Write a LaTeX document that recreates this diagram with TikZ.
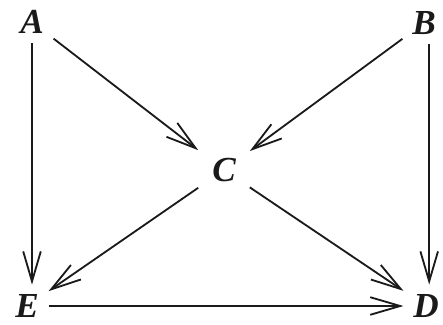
\documentclass[tikz,border=0pt]{standalone}
\usepackage{fontspec}
\setmainfont{Liberation Serif}
\usetikzlibrary{arrows.meta}
\definecolor{ink}{HTML}{1A1A1A}
\tikzset{
  every node/.style = {text=ink},
  vtx/.style   = {inner sep=1pt, outer sep=6pt,
                  font=\fontsize{25}{28}\selectfont\bfseries\itshape},
  vtxc/.style  = {vtx, outer sep=9pt},
  go/.style    = {-{Straight Barb[length=7.5mm,width=4.4mm,line width=1.3pt]},
                  draw=ink, line width=1.3pt},
}
\begin{document}
\begin{tikzpicture}[x=0.025cm, y=-0.025cm]
\useasboundingbox (0,0) rectangle (443,324);

\node[vtx]  (a) at (32,22)   {A};
\node[vtx]  (b) at (424,23)  {B};
\node[vtxc] (c) at (224,170) {C};
\node[vtx]  (e) at (27,306)  {E};
\node[vtx]  (d) at (426,306) {D};

\draw[go] (a) -- (c);
\draw[go] (b) -- (c);
\draw[go] (a.south) -- (a.south |- e.north);
\draw[go] ([xshift=0.13cm]b.south) -- ([xshift=0.13cm]b.south |- d.north);
\draw[go] (c) -- (e);
\draw[go] (c) -- (d);
\draw[go] (e) -- (d);
\end{tikzpicture}
\end{document}
